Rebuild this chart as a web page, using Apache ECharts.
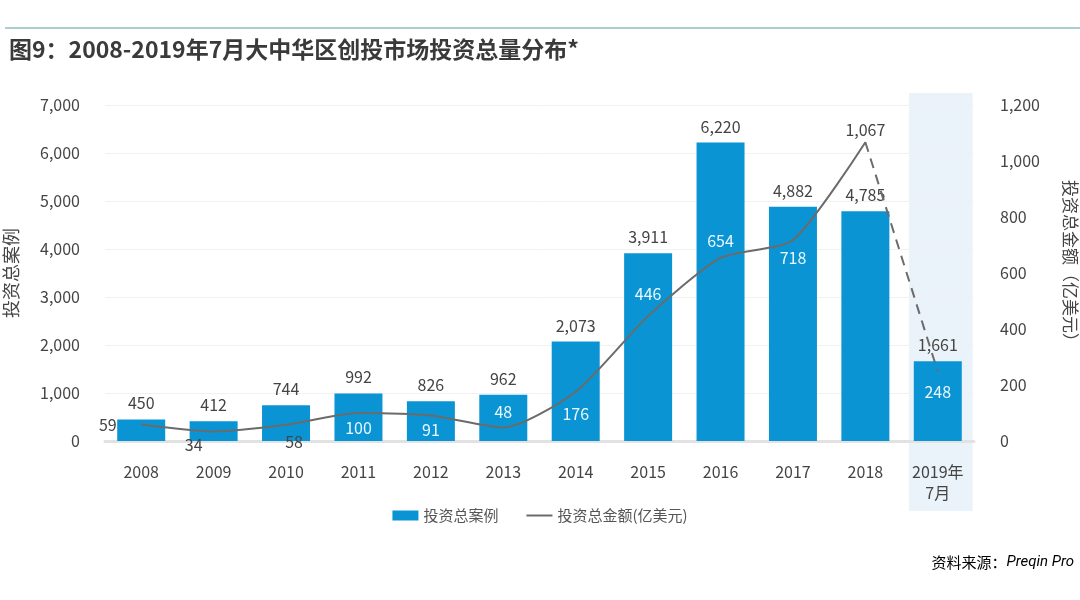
<!DOCTYPE html>
<html>
<head>
<meta charset="utf-8">
<script src="https://cdn.jsdelivr.net/npm/echarts@6/dist/echarts.min.js"></script>
<style>
html,body{margin:0;padding:0;background:#fff;overflow:hidden;}
#c{width:1080px;height:600px;}
</style>
</head>
<body>
<div id="c"></div>
<script>
var categories = ['2008','2009','2010','2011','2012','2013','2014','2015','2016','2017','2018','2019年\n7月'];
var dealCounts = [450, 412, 744, 992, 826, 962, 2073, 3911, 6220, 4882, 4785, 1661];
var dealAmounts = [59, 34, 58, 100, 91, 48, 176, 446, 654, 718, 1067, 248];
var leftTicks = [0, 1000, 2000, 3000, 4000, 5000, 6000, 7000];
var rightTicks = [0, 200, 400, 600, 800, 1000, 1200];

// label placement styles for the line (not data)
var lineLabelStyle = [
  {position:'left', distance:24, color:'#444'},
  {position:'bottom', distance:5, offset:[-20,0], color:'#444'},
  {position:'bottom', distance:9, offset:[8,0], color:'#444'},
  {position:'bottom', distance:6, color:'#eaf8ff'},
  {position:'bottom', distance:6, color:'#eaf8ff'},
  {position:'top', distance:7, color:'#eaf8ff'},
  {position:'bottom', distance:14, color:'#eaf8ff'},
  {position:'top', distance:14, color:'#eaf8ff'},
  {position:'top', distance:8, color:'#eaf8ff'},
  {position:'bottom', distance:9, color:'#eaf8ff'},
  {position:'top', distance:4, color:'#444'},
  {position:'bottom', distance:12, color:'#eaf8ff'}
];

var n = categories.length;
function fmt(v){ return Number(v).toLocaleString('en-US'); }
function lblFmt(p){ return fmt(p.value); }

var solidData = dealAmounts.map(function(v,i){
  if (i === n-1) return null;
  return {value: v, label: lineLabelStyle[i]};
});
var dashedData = dealAmounts.map(function(v,i){
  if (i < n-2) return null;
  if (i === n-1) return {value: v, label: Object.assign({show:true}, lineLabelStyle[i])};
  return {value: v, label: {show:false}};
});

var chart = echarts.init(document.getElementById('c'), null, {renderer:'canvas', width:1080, height:600});
var textColor = '#444';
var ff = '"Noto Sans CJK SC", "Noto Sans", sans-serif';

chart.setOption({
  animation: false,
  textStyle: {fontFamily: ff},
  title: {
    text: '图9：2008-2019年7月大中华区创投市场投资总量分布*',
    left: 4, top: 33,
    textStyle: {fontSize: 23, fontWeight: 'bold', color: '#3a3a3a', fontFamily: ff}
  },
  legend: {
    bottom: 72, left: 'center',
    itemWidth: 26, itemHeight: 10, itemGap: 28,
    textStyle: {fontSize: 15, color: '#555', fontFamily: ff},
    data: [
      {name: '投资总案例', icon: 'rect'},
      {name: '投资总金额(亿美元)', icon: 'path://M0,4 L26,4 L26,6 L0,6 Z'}
    ]
  },
  grid: {left: 105, right: 106, top: 105, bottom: 159, containLabel: false, outerBoundsMode: 'none'},
  xAxis: {
    type: 'category',
    data: categories,
    axisLine: {lineStyle: {color: '#e2e2e2', width: 3}},
    axisTick: {show: false},
    axisLabel: {color: textColor, fontSize: 16, margin: 20, lineHeight: 21, fontFamily: ff}
  },
  yAxis: [{
    type: 'value', min: leftTicks[0], max: leftTicks[leftTicks.length-1], interval: leftTicks[1]-leftTicks[0],
    name: '投资总案例', nameLocation: 'middle', nameGap: 85, nameRotate: 90, nameMoveOverlap: false,
    nameTextStyle: {color: textColor, fontSize: 18, fontFamily: ff},
    axisLine: {show: false}, axisTick: {show: false},
    axisLabel: {color: textColor, fontSize: 16, margin: 25, formatter: function(v){return fmt(v);}},
    splitLine: {lineStyle: {color: '#f1f1f1', width: 1}}
  },{
    type: 'value', min: rightTicks[0], max: rightTicks[rightTicks.length-1], interval: rightTicks[1]-rightTicks[0],
    name: '投资总金额（亿美元）', nameLocation: 'middle', nameGap: 88, nameRotate: -90, nameMoveOverlap: false,
    nameTextStyle: {color: textColor, fontSize: 17, fontFamily: ff, padding: [0, 16, 0, 0]},
    axisLine: {show: false}, axisTick: {show: false},
    axisLabel: {color: textColor, fontSize: 16, margin: 26, formatter: function(v){return fmt(v);}},
    splitLine: {show: false}
  }],
  series: [{
    name: '投资总案例',
    type: 'bar',
    yAxisIndex: 0,
    barWidth: 48,
    data: dealCounts,
    itemStyle: {color: '#0b94d4'},
    label: {show: true, position: 'top', distance: 8, color: textColor, fontSize: 16, formatter: lblFmt}
  },{
    name: '投资总金额(亿美元)',
    type: 'line',
    yAxisIndex: 1,
    data: solidData,
    smooth: 0.22,
    symbol: 'circle', symbolSize: 1,
    showSymbol: true,
    itemStyle: {color: '#6b6b6b'},
    lineStyle: {color: '#6b6b6b', width: 2},
    label: {show: true, fontSize: 16, formatter: lblFmt},
    z: 5
  },{
    name: 'dashed',
    type: 'line',
    yAxisIndex: 1,
    data: dashedData,
    symbol: 'circle', symbolSize: 1,
    itemStyle: {color: '#6b6b6b'},
    lineStyle: {color: '#6b6b6b', width: 2, type: [10, 7]},
    label: {fontSize: 16, formatter: lblFmt},
    z: 5
  }],
  graphic: [{
    type: 'rect', left: 5, top: 27, shape: {x: 0, y: 0, width: 1075, height: 2},
    style: {fill: '#a9cfd0'}, silent: true
  },{
    type: 'text', right: 6, top: 555,
    style: {
      text: '{a|资料来源：}{b|Preqin Pro}',
      rich: {
        a: {fontSize: 15, color: '#555', fontFamily: ff},
        b: {fontSize: 15, color: '#555', fontStyle: 'italic', fontFamily: 'Roboto, "Noto Sans", sans-serif'}
      }
    }
  }]
});

// highlight band for the last category, positioned via axis scale
var cx = chart.convertToPixel({xAxisIndex: 0}, categories[n-1]);
var cx0 = chart.convertToPixel({xAxisIndex: 0}, categories[n-2]);
var bw = (cx - cx0) * 0.88;
var yTop = chart.convertToPixel({yAxisIndex: 0}, leftTicks[leftTicks.length-1]) - 12;
var yBot = chart.convertToPixel({yAxisIndex: 0}, 0) + 70;
chart.setOption({
  graphic: [{}, {}, {
    type: 'rect', silent: true, z: -10,
    shape: {x: cx - bw/2 + 3, y: yTop, width: bw, height: yBot - yTop},
    style: {fill: '#eaf3fa'}
  }]
});
</script>
</body>
</html>
